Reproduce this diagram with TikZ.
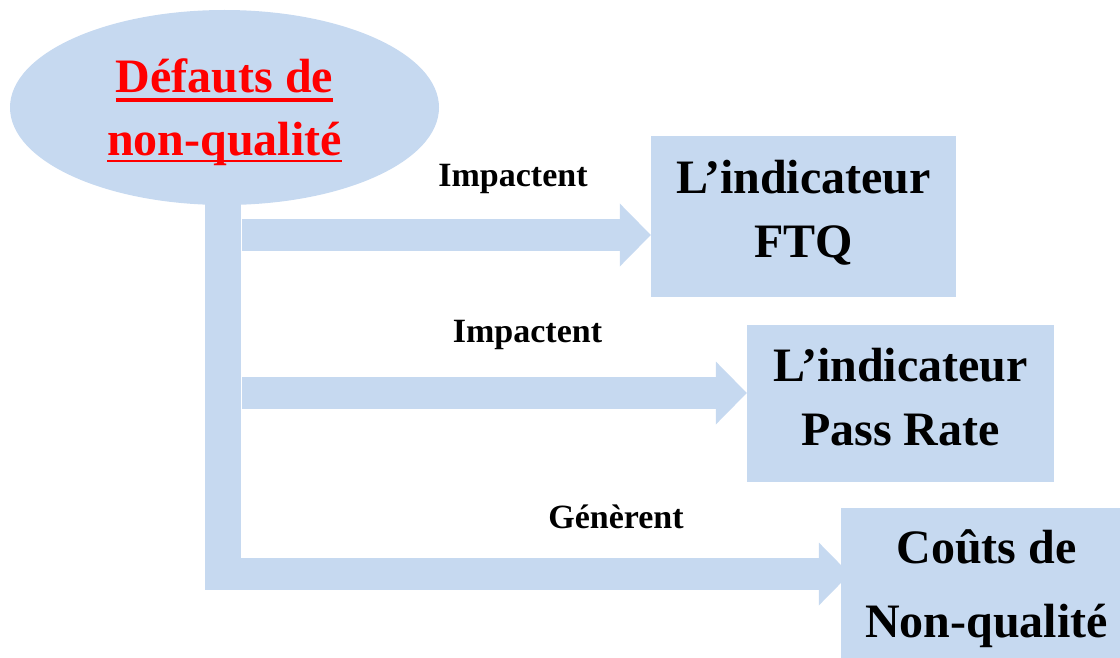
\documentclass[tikz,border=0pt]{standalone}
\usepackage{fontspec}
\setmainfont{Liberation Serif}
\usetikzlibrary{shapes.geometric,arrows.meta}
\definecolor{paleblue}{HTML}{C6D9F0}
\definecolor{titlered}{HTML}{FF0000}
\pgfdeclarelayer{background}
\pgfsetlayers{background,main}

% text with a solid rule below it: #2 = gap under the baseline, #3 = rule bottom
\newcommand{\barunder}[3]{\setbox0=\hbox{#1}\leavevmode\rlap{\vrule height -#2 depth #3 width \wd0}\box0}

\begin{document}
\begin{tikzpicture}[x=1pt,y=-1pt,
  box/.style={rectangle, fill=paleblue, inner sep=0pt, align=center,
              font=\bfseries\fontsize{48}{64}\selectfont},
  lab/.style={anchor=base, inner sep=0pt, font=\bfseries\fontsize{34}{40}\selectfont},
  stem/.style={draw=paleblue, line width=36pt},
  flow/.style={draw=paleblue, line width=32pt,
               -{Triangle[width=63pt,length=31pt,line width=0pt]}}]
\useasboundingbox (0,0) rectangle (1120,658);

% source
\node[ellipse, fill=paleblue, minimum width=429pt, minimum height=195pt,
      inner sep=0pt, align=center, text=titlered, text depth=0pt,
      font=\bfseries\fontsize{48}{63}\selectfont]
  (def) at (224.5,107.5)
  {\barunder{Défauts de}{5pt}{9pt}\\\barunder{non-qualité}{4pt}{6pt}};

% targets
\node[box, minimum width=305pt, minimum height=161pt, text depth=16pt]
  (ftq) at (803.5,216.5) {L’indicateur\\FTQ};
\node[box, minimum width=307pt, minimum height=157pt, text depth=13pt]
  (pass) at (900.5,403.5) {L’indicateur\\Pass Rate};
\node[box, minimum width=291pt, minimum height=156pt, text depth=5pt,
      font=\bfseries\fontsize{48}{74}\selectfont]
  (couts) at (986.5,586) {Coûts de\\Non-qualité};

% trunk and branch points
\coordinate (t0) at (223,195);
\coordinate (t1) at (223,590);
\coordinate (s1) at (242,235);
\coordinate (s2) at (242,393);
\coordinate (s3) at (205,574);

\begin{pgfonlayer}{background}
  \draw[stem] (t0) -- (t1);
  \draw[flow] (s1) -- (ftq.west |- s1);
  \draw[flow] (s2) -- (pass.west |- s2);
  \draw[flow] (s3) -- ([xshift=9pt]couts.west |- s3);
\end{pgfonlayer}

% connector labels
\node[lab] (l1) at (513,187) {Impactent};
\node[lab] (l2) at (527.5,342) {Impactent};
\node[lab] (l3) at (616,528) {Génèrent};
\end{tikzpicture}
\end{document}
